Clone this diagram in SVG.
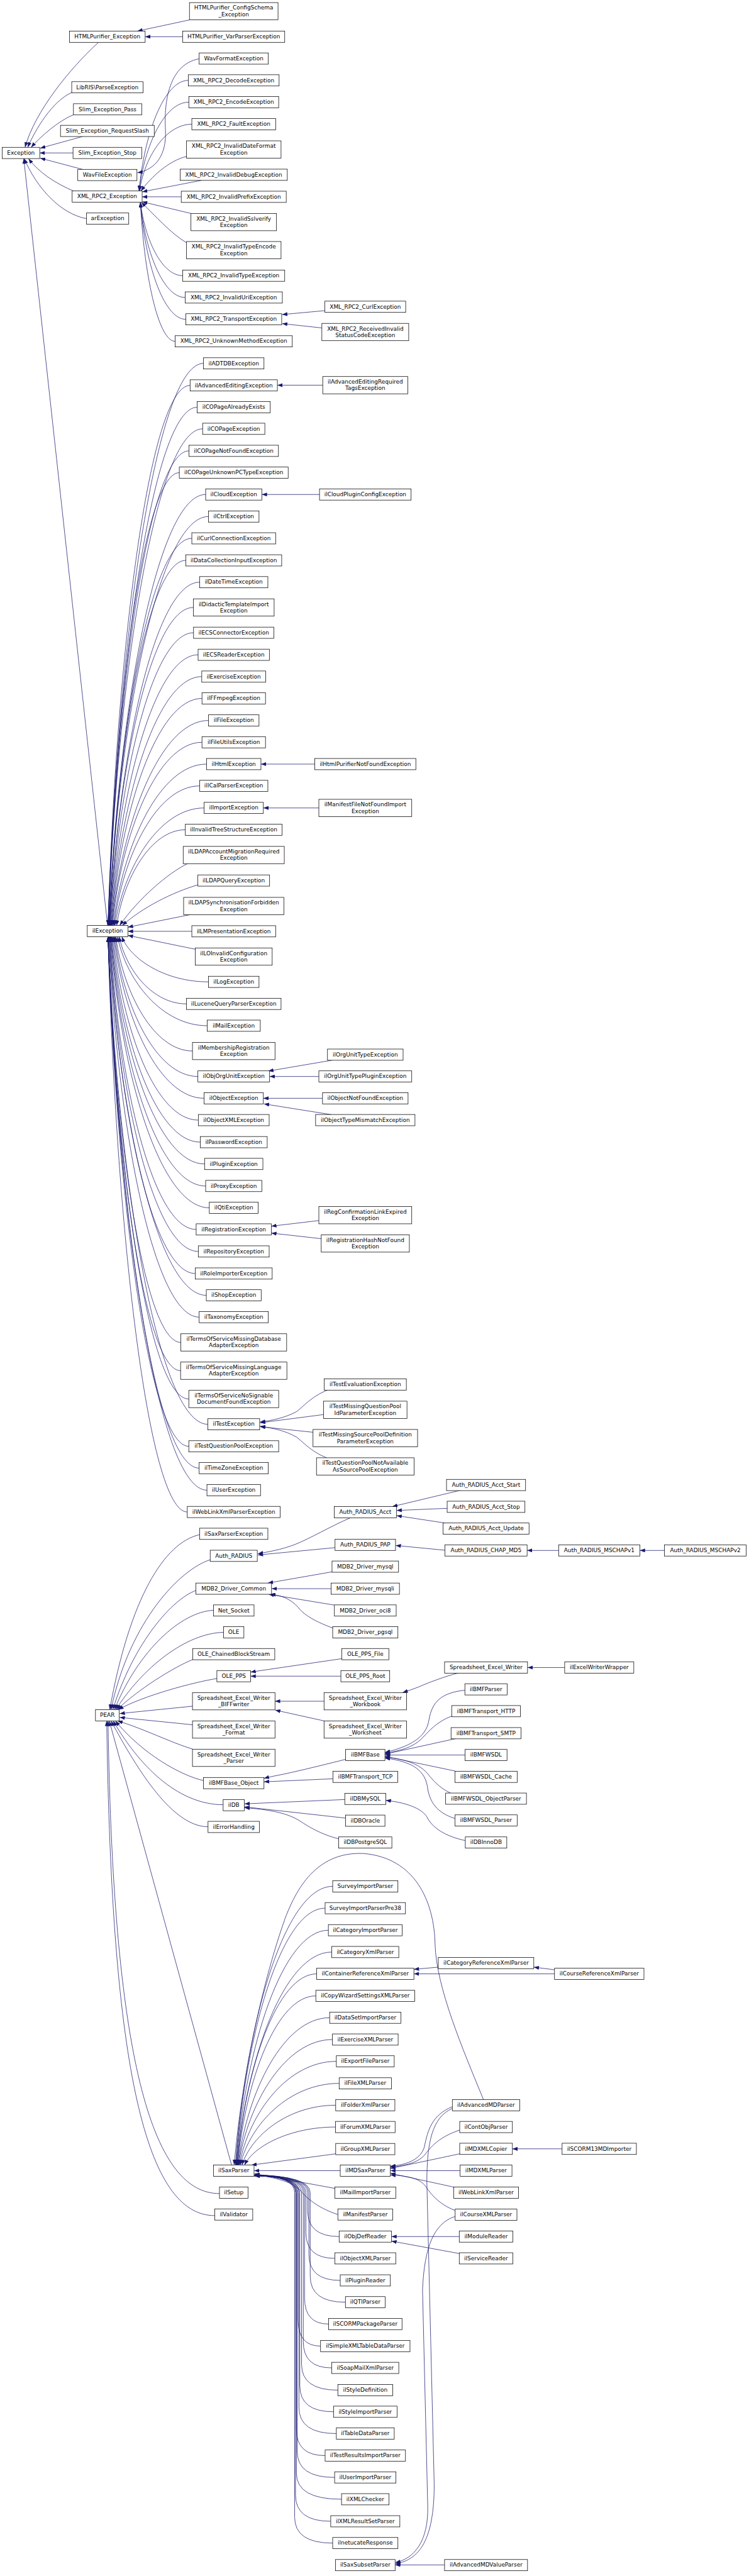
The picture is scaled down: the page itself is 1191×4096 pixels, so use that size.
<svg xmlns="http://www.w3.org/2000/svg" width="1191" height="4096" viewBox="0 0 1191 4096">
<style>
.n rect{fill:#fff;stroke:#000;stroke-width:1.1}
.n text{font-family:"DejaVu Sans","Liberation Sans",sans-serif;font-size:13px;text-anchor:middle;fill:#000}
.e path{fill:none;stroke:#191970;stroke-width:1.1;marker-end:url(#ar)}
</style>
<defs><marker id="ar" markerUnits="userSpaceOnUse" viewBox="0 0 12 9" markerWidth="12" markerHeight="9" refX="12" refY="4.5" orient="auto"><path d="M0,0L12,4.5L0,9z" fill="#191970"/></marker></defs>
<rect width="1191" height="4096" fill="#fff"/>
<g transform="scale(0.687)">
<g id="connectors" class="e">
<path d="M228,98 C160,160 80,260 58,341"/>
<path d="M166,214 C120,235 82,300 64,341"/>
<path d="M171,265 C135,280 95,315 72,341"/>
<path d="M191,316 L93,343"/>
<path d="M169,354 L92,354"/>
<path d="M191,392 L93,366"/>
<path d="M172,443 C130,425 90,400 66,367"/>
<path d="M200,506 C140,495 85,435 56,367"/>
<path d="M249,2142 L55,367"/>
<path d="M439,46 L318,72"/>
<path d="M423,85 L336,85"/>
<path d="M461,136 C385,150 380,250 383,300 C386,360 360,392 318,400"/>
<path d="M436,186 C379,186 333,314 322,442"/>
<path d="M437,236.5 C380,236.5 334,339 322,442"/>
<path d="M444,287.5 C383,287.5 334,365 323,442"/>
<path d="M432,362 C390,372 350,410 326,442"/>
<path d="M466,417.5 L329,444"/>
<path d="M419.5,455.5 L329,455.5"/>
<path d="M442,494 L329,467"/>
<path d="M432,562 C395,540 360,500 327,468"/>
<path d="M423,638 C374,638 335,553 325,468"/>
<path d="M428.5,688.5 C377,688.5 335,578 325,468"/>
<path d="M430,739 C377,739 335,603 325,468"/>
<path d="M405.5,790 C365,790 333,629 325,468"/>
<path d="M752,719 L653,728"/>
<path d="M745,759 L653,749"/>
<path d="M471,841 C360,841 272,1492 250,2142"/>
<path d="M440,892 C345,892 269,1517 250,2142"/>
<path d="M456.5,942.5 C354,942.5 271,1542 250,2142"/>
<path d="M469,992.5 C360,992.5 272,1568 250,2142"/>
<path d="M437.5,1043.5 C344,1043.5 270,1593 251,2142"/>
<path d="M415,1094 C333,1094 267,1618 251,2142"/>
<path d="M476,1144.5 C364,1144.5 274,1644 252,2142"/>
<path d="M482.5,1195.5 C368,1195.5 275,1669 252,2142"/>
<path d="M444,1246 C348,1246 272,1694 253,2142"/>
<path d="M430,1297 C342,1297 271,1720 253,2142"/>
<path d="M462,1347.5 C358,1347.5 275,1745 254,2142"/>
<path d="M447.5,1406 C351,1406 273,1774 254,2142"/>
<path d="M448,1464.5 C352,1464.5 274,1804 255,2142"/>
<path d="M458.5,1515.5 C358,1515.5 276,1829 256,2142"/>
<path d="M467,1566 C362,1566 278,1854 257,2142"/>
<path d="M467.5,1616.5 C362,1616.5 279,1880 258,2142"/>
<path d="M482.5,1667.5 C371,1667.5 281,1905 259,2142"/>
<path d="M467.5,1718 C364,1718 281,1930 260,2142"/>
<path d="M478,1768.5 C370,1768.5 284,1956 262,2142"/>
<path d="M462,1819 C363,1819 284,1981 264,2142"/>
<path d="M472.5,1870 C370,1870 287,2006 266,2142"/>
<path d="M429,1920.5 C350,1920.5 286,2032 270,2142"/>
<path d="M434,1999 C390,2020 320,2080 277,2142"/>
<path d="M458,2048 C400,2065 330,2100 283,2142"/>
<path d="M440,2117 L296,2146"/>
<path d="M444,2155.5 L296,2155.5"/>
<path d="M452,2197 L296,2165"/>
<path d="M482.5,2272.5 C382,2272.5 302,2220 282,2168"/>
<path d="M431.5,2323.5 C354,2323.5 292,2246 276,2168"/>
<path d="M479.5,2374 C376,2374 293,2271 272,2168"/>
<path d="M445.5,2432.5 C357,2432.5 286,2300 268,2168"/>
<path d="M458,2491.5 C362,2491.5 285,2330 266,2168"/>
<path d="M472.5,2542 C368,2542 285,2355 264,2168"/>
<path d="M459,2592.5 C360,2592.5 282,2380 262,2168"/>
<path d="M463.5,2643.5 C362,2643.5 280,2406 260,2168"/>
<path d="M473.5,2694 C366,2694 280,2431 258,2168"/>
<path d="M476,2745 C366,2745 279,2456 257,2168"/>
<path d="M484.5,2795.5 C370,2795.5 279,2482 256,2168"/>
<path d="M454,2845.5 C354,2845.5 275,2507 255,2168"/>
<path d="M459,2896.5 C356,2896.5 274,2532 254,2168"/>
<path d="M452,2947.5 C352,2947.5 273,2558 253,2168"/>
<path d="M477.5,2998 C365,2998 275,2583 252,2168"/>
<path d="M461,3048.5 C356,3048.5 272,2608 251,2168"/>
<path d="M418.5,3107 C334,3107 267,2638 250,2168"/>
<path d="M418,3172.5 C334,3172.5 267,2670 250,2168"/>
<path d="M437,3238 C344,3238 269,2703 250,2168"/>
<path d="M481,3296.5 C366,3296.5 273,2732 250,2168"/>
<path d="M437,3347.5 C344,3347.5 269,2758 250,2168"/>
<path d="M461,3398 C356,3398 271,2783 250,2168"/>
<path d="M479,3449 C364,3449 273,2808 250,2168"/>
<path d="M433.5,3499.5 C342,3499.5 268,2834 250,2168"/>
<path d="M747,891.5 L642,891.5"/>
<path d="M739.5,1144.5 L606,1144.5"/>
<path d="M728.5,1768.5 L604,1768.5"/>
<path d="M738,1870 L609.5,1870"/>
<path d="M768,2454 L621,2479"/>
<path d="M738,2491.5 L624,2491.5"/>
<path d="M746.5,2542 L609.5,2542"/>
<path d="M768,2580 L611,2555"/>
<path d="M738,2825 L628,2838"/>
<path d="M744,2867 L628,2854"/>
<path d="M759,3217 C720,3232 700,3258 685,3268 C660,3281 630,3288 602,3291"/>
<path d="M749,3274 L602,3293"/>
<path d="M724.5,3315 L602,3302"/>
<path d="M756,3374 C720,3360 700,3336 686,3326 C660,3311 630,3305 602,3301"/>
<path d="M462,3552 C380,3570 300,3700 254,3957"/>
<path d="M487,3610 C420,3630 300,3750 257,3957"/>
<path d="M454,3681 C400,3700 310,3800 261,3957"/>
<path d="M494,3727 C420,3730 320,3820 265,3957"/>
<path d="M517.5,3778 C430,3780 330,3860 268,3957"/>
<path d="M446,3841 C400,3860 320,3910 271,3957"/>
<path d="M502,3885 C450,3893 330,3925 274,3957"/>
<path d="M445.5,3949 L277,3966"/>
<path d="M445.5,3992 L277,3975"/>
<path d="M445.5,4048 C400,4035 330,4000 272,3983"/>
<path d="M471,4121 C420,4110 330,4060 267,3983"/>
<path d="M516.5,4177 C420,4177 330,4100 262,3983"/>
<path d="M481.5,4228 C400,4228 320,4100 257,3983"/>
<path d="M536,5011 L253,3983"/>
<path d="M508,5077 C360,5077 262,4800 250,3983"/>
<path d="M497,5128 C340,5128 258,4800 247,3983"/>
<path d="M813,3512 C760,3535 720,3560 682,3575 C650,3587 620,3592 597,3596"/>
<path d="M775.5,3582 L597,3599"/>
<path d="M1067,3449 L908,3487"/>
<path d="M1035,3491 L918,3496"/>
<path d="M1030,3525 L918,3508"/>
<path d="M1030,3588 L916,3577"/>
<path d="M1293,3588.5 L1220,3588.5"/>
<path d="M1538,3588.5 L1481,3588.5"/>
<path d="M768.5,3638 L620,3664"/>
<path d="M766.5,3677 L629,3677"/>
<path d="M774,3715 L622,3690"/>
<path d="M770,3768 C735,3755 705,3740 690,3720 C672,3700 650,3692 626,3690"/>
<path d="M791,3839 L580,3870"/>
<path d="M789,3879.5 L580,3879.5"/>
<path d="M750,3937.5 L636.5,3937.5"/>
<path d="M750,3983 L637,3958"/>
<path d="M1061,3872 C1030,3880 990,3895 970,3904 C955,3910 945,3913 932,3917.5"/>
<path d="M1307,3859.5 L1221,3859.5"/>
<path d="M800,4072 C760,4082 720,4092 676,4102 C650,4108 630,4111 611,4116"/>
<path d="M770.5,4117 L611,4124"/>
<path d="M1076,3912 C1020,3918 1000,3940 993,3980 C988,4015 960,4040 891,4056"/>
<path d="M1045.5,3972 C1010,3985 990,4010 975,4025 C955,4045 925,4052 891,4058"/>
<path d="M1055,4024 L891,4060"/>
<path d="M1076.5,4062 L891,4062"/>
<path d="M1053,4099 L891,4065"/>
<path d="M1043,4150 C1010,4135 995,4110 985,4100 C965,4080 930,4070 891,4067"/>
<path d="M1053,4209 C1010,4195 995,4170 990,4140 C985,4100 960,4078 891,4069"/>
<path d="M798,4165 L566,4175"/>
<path d="M800,4208 L566,4182"/>
<path d="M784,4256 C740,4245 710,4225 690,4212 C660,4195 620,4188 566,4184"/>
<path d="M1077,4260 C1030,4250 1000,4230 988,4205 C975,4185 940,4172 893,4167"/>
<path d="M770,4366 C658,4366 568,4688 545,5011"/>
<path d="M752.5,4416.5 C650,4416.5 567,4714 546,5011"/>
<path d="M760,4467.5 C654,4467.5 568,4739 547,5011"/>
<path d="M768,4518 C658,4518 570,4764 548,5011"/>
<path d="M733,4568.5 C641,4568.5 567,4790 549,5011"/>
<path d="M731,4619.5 C640,4619.5 568,4815 550,5011"/>
<path d="M763,4670 C657,4670 572,4840 551,5011"/>
<path d="M769.5,4720.5 C661,4720.5 574,4866 552,5011"/>
<path d="M778.5,4771 C666,4771 576,4891 554,5011"/>
<path d="M785,4822 C670,4822 579,4916 556,5011"/>
<path d="M777,4872.5 C668,4872.5 582,4942 560,5011"/>
<path d="M776.5,4923 C672,4923 587,4967 566,5011"/>
<path d="M777,4985 L582,5011"/>
<path d="M1119,4859.5 C1070,4740 1010,4600 1007,4500 C1005,4400 960,4300 842,4290 C740,4285 690,4360 660,4440 C610,4580 560,4800 542,5011"/>
<path d="M787.5,5024 L588,5024"/>
<path d="M775,5065 L589,5031"/>
<path d="M782,5125.5 C740,5112 712,5090 697,5072 C682,5052 640,5040 589,5033"/>
<path d="M785,5176.5 Q712,5176.5 712,5116 L712,5075 Q712,5036 589,5034"/>
<path d="M775,5227 Q708,5227 708,5167 L708,5075 Q708,5036 589,5034"/>
<path d="M787.5,5278 Q715,5278 715,5218 L715,5075 Q715,5036 589,5034"/>
<path d="M799.5,5328.5 Q718,5328.5 718,5268 L718,5075 Q718,5036 589,5035"/>
<path d="M760.5,5379 Q705,5379 705,5319 L705,5075 Q705,5036 589,5035"/>
<path d="M742,5430 Q690,5430 690,5370 L690,5075 Q690,5036 589,5035"/>
<path d="M768,5480.5 Q702,5480.5 702,5420 L702,5075 Q702,5036 589,5035"/>
<path d="M782,5532 Q698,5532 698,5472 L698,5075 Q698,5036 589,5036"/>
<path d="M772,5582 Q694,5582 694,5522 L694,5075 Q694,5036 589,5036"/>
<path d="M778.5,5632.5 Q692,5632.5 692,5572 L692,5075 Q692,5036 589,5036"/>
<path d="M752.5,5683.5 Q686,5683.5 686,5623 L686,5075 Q686,5036 589,5036"/>
<path d="M774.5,5734 Q688,5734 688,5674 L688,5075 Q688,5036 589,5036"/>
<path d="M790.5,5784.5 Q686,5784.5 686,5724 L686,5075 Q686,5036 589,5036"/>
<path d="M765.5,5835.5 Q684,5835.5 684,5775 L684,5075 Q684,5036 589,5036"/>
<path d="M770,5886 Q682,5886 682,5826 L682,5075 Q682,5036 589,5036"/>
<path d="M1014.5,4553 L958,4558"/>
<path d="M1283.5,4568.5 L958,4568.5"/>
<path d="M1283.5,4559 L1235.5,4553"/>
<path d="M1047,4876 C1000,4895 990,4930 982,4970 C972,5000 940,5010 903.5,5014"/>
<path d="M1064,4930 C1020,4945 1000,4965 985,4985 C970,5005 940,5012 903.5,5016"/>
<path d="M1064,4985 L903.5,5019"/>
<path d="M1065,5024 L903.5,5024"/>
<path d="M1050,5062 L903.5,5030"/>
<path d="M1053.5,5116 C1015,5102 995,5075 985,5060 C970,5040 940,5036 903.5,5034"/>
<path d="M1301,4973.5 L1186,4973.5"/>
<path d="M1063,5176.5 L906,5176.5"/>
<path d="M1064,5216 L906,5187"/>
<path d="M1029,5936.5 L914.5,5936.5"/>
<path d="M1047,4880 C1000,4900 988,4960 988,5050 L1005,5750 C1005,5880 970,5925 915,5934"/>
<path d="M1053.5,5130 C1005,5145 982,5200 978,5300 L990,5800 C992,5880 960,5922 915,5931"/>
</g>
<g id="nodes">
<g id="n-Exception" class="n"><rect x="5" y="341" width="87" height="26"/><text x="48.5" y="358">Exception</text></g>
<g id="n-PEAR" class="n"><rect x="221" y="3957" width="55" height="26"/><text x="248.5" y="3974">PEAR</text></g>
<g id="n-HTMLPurifier_Exception" class="n"><rect x="161" y="72" width="175" height="26"/><text x="248.5" y="89">HTMLPurifier_Exception</text></g>
<g id="n-LibRIS-ParseException" class="n"><rect x="166" y="189" width="165" height="26"/><text x="248.5" y="206">LibRIS\ParseException</text></g>
<g id="n-Slim_Exception_Pass" class="n"><rect x="170" y="240" width="158" height="26"/><text x="249" y="257">Slim_Exception_Pass</text></g>
<g id="n-Slim_Exception_RequestSlash" class="n"><rect x="140" y="290" width="217" height="26"/><text x="248.5" y="307">Slim_Exception_RequestSlash</text></g>
<g id="n-Slim_Exception_Stop" class="n"><rect x="169" y="341" width="159" height="26"/><text x="248.5" y="358">Slim_Exception_Stop</text></g>
<g id="n-WavFileException" class="n"><rect x="180" y="392" width="137" height="26"/><text x="248.5" y="409">WavFileException</text></g>
<g id="n-XML_RPC2_Exception" class="n"><rect x="167" y="442" width="162" height="26"/><text x="248" y="459">XML_RPC2_Exception</text></g>
<g id="n-arException" class="n"><rect x="200" y="493" width="98" height="26"/><text x="249" y="510">arException</text></g>
<g id="n-ilException" class="n"><rect x="202" y="2142" width="94" height="26"/><text x="249" y="2159">ilException</text></g>
<g id="n-HTMLPurifier_ConfigSchema_Exception" class="n"><rect x="438.5" y="6" width="205" height="40"/><text x="541" y="22.5">HTMLPurifier_ConfigSchema<tspan x="541" dy="15">_Exception</tspan></text></g>
<g id="n-HTMLPurifier_VarParserException" class="n"><rect x="423" y="72" width="236" height="26"/><text x="541" y="89">HTMLPurifier_VarParserException</text></g>
<g id="n-WavFormatException" class="n"><rect x="461" y="122.5" width="160" height="26"/><text x="541" y="139.5">WavFormatException</text></g>
<g id="n-XML_RPC2_DecodeException" class="n"><rect x="436" y="173" width="210" height="26"/><text x="541" y="190">XML_RPC2_DecodeException</text></g>
<g id="n-XML_RPC2_EncodeException" class="n"><rect x="437" y="223.5" width="208" height="26"/><text x="541" y="240.5">XML_RPC2_EncodeException</text></g>
<g id="n-XML_RPC2_FaultException" class="n"><rect x="444" y="274.5" width="194" height="26"/><text x="541" y="291.5">XML_RPC2_FaultException</text></g>
<g id="n-XML_RPC2_InvalidDateFormatException" class="n"><rect x="431.5" y="326" width="219" height="40"/><text x="541" y="342.5">XML_RPC2_InvalidDateFormat<tspan x="541" dy="15">Exception</tspan></text></g>
<g id="n-XML_RPC2_InvalidDebugException" class="n"><rect x="417" y="391.5" width="248" height="26"/><text x="541" y="408.5">XML_RPC2_InvalidDebugException</text></g>
<g id="n-XML_RPC2_InvalidPrefixException" class="n"><rect x="419.5" y="442.5" width="243" height="26"/><text x="541" y="459.5">XML_RPC2_InvalidPrefixException</text></g>
<g id="n-XML_RPC2_InvalidSslverifyException" class="n"><rect x="442" y="494" width="198" height="40"/><text x="541" y="510.5">XML_RPC2_InvalidSslverify<tspan x="541" dy="15">Exception</tspan></text></g>
<g id="n-XML_RPC2_InvalidTypeEncodeException" class="n"><rect x="431.5" y="559" width="219" height="40"/><text x="541" y="575.5">XML_RPC2_InvalidTypeEncode<tspan x="541" dy="15">Exception</tspan></text></g>
<g id="n-XML_RPC2_InvalidTypeException" class="n"><rect x="423" y="625" width="236" height="26"/><text x="541" y="642">XML_RPC2_InvalidTypeException</text></g>
<g id="n-XML_RPC2_InvalidUriException" class="n"><rect x="428.5" y="675.5" width="225" height="26"/><text x="541" y="692.5">XML_RPC2_InvalidUriException</text></g>
<g id="n-XML_RPC2_TransportException" class="n"><rect x="430" y="726" width="222" height="26"/><text x="541" y="743">XML_RPC2_TransportException</text></g>
<g id="n-XML_RPC2_UnknownMethodException" class="n"><rect x="405.5" y="777" width="271" height="26"/><text x="541" y="794">XML_RPC2_UnknownMethodException</text></g>
<g id="n-ilADTDBException" class="n"><rect x="471" y="828" width="140" height="26"/><text x="541" y="845">ilADTDBException</text></g>
<g id="n-ilAdvancedEditingException" class="n"><rect x="440" y="879" width="202" height="26"/><text x="541" y="896">ilAdvancedEditingException</text></g>
<g id="n-ilCOPageAlreadyExists" class="n"><rect x="456.5" y="929.5" width="169" height="26"/><text x="541" y="946.5">ilCOPageAlreadyExists</text></g>
<g id="n-ilCOPageException" class="n"><rect x="469" y="979.5" width="144" height="26"/><text x="541" y="996.5">ilCOPageException</text></g>
<g id="n-ilCOPageNotFoundException" class="n"><rect x="437.5" y="1030.5" width="207" height="26"/><text x="541" y="1047.5">ilCOPageNotFoundException</text></g>
<g id="n-ilCOPageUnknownPCTypeException" class="n"><rect x="415" y="1081" width="252" height="26"/><text x="541" y="1098">ilCOPageUnknownPCTypeException</text></g>
<g id="n-ilCloudException" class="n"><rect x="476" y="1131.5" width="130" height="26"/><text x="541" y="1148.5">ilCloudException</text></g>
<g id="n-ilCtrlException" class="n"><rect x="482.5" y="1182.5" width="117" height="26"/><text x="541" y="1199.5">ilCtrlException</text></g>
<g id="n-ilCurlConnectionException" class="n"><rect x="444" y="1233" width="194" height="26"/><text x="541" y="1250">ilCurlConnectionException</text></g>
<g id="n-ilDataCollectionInputException" class="n"><rect x="430" y="1284" width="222" height="26"/><text x="541" y="1301">ilDataCollectionInputException</text></g>
<g id="n-ilDateTimeException" class="n"><rect x="462" y="1334.5" width="158" height="26"/><text x="541" y="1351.5">ilDateTimeException</text></g>
<g id="n-ilDidacticTemplateImportException" class="n"><rect x="447.5" y="1386" width="187" height="40"/><text x="541" y="1402.5">ilDidacticTemplateImport<tspan x="541" dy="15">Exception</tspan></text></g>
<g id="n-ilECSConnectorException" class="n"><rect x="448" y="1451.5" width="186" height="26"/><text x="541" y="1468.5">ilECSConnectorException</text></g>
<g id="n-ilECSReaderException" class="n"><rect x="458.5" y="1502.5" width="165" height="26"/><text x="541" y="1519.5">ilECSReaderException</text></g>
<g id="n-ilExerciseException" class="n"><rect x="467" y="1553" width="148" height="26"/><text x="541" y="1570">ilExerciseException</text></g>
<g id="n-ilFFmpegException" class="n"><rect x="467.5" y="1603.5" width="147" height="26"/><text x="541" y="1620.5">ilFFmpegException</text></g>
<g id="n-ilFileException" class="n"><rect x="482.5" y="1654.5" width="117" height="26"/><text x="541" y="1671.5">ilFileException</text></g>
<g id="n-ilFileUtilsException" class="n"><rect x="467.5" y="1705" width="147" height="26"/><text x="541" y="1722">ilFileUtilsException</text></g>
<g id="n-ilHtmlException" class="n"><rect x="478" y="1755.5" width="126" height="26"/><text x="541" y="1772.5">ilHtmlException</text></g>
<g id="n-ilICalParserException" class="n"><rect x="462" y="1806" width="158" height="26"/><text x="541" y="1823">ilICalParserException</text></g>
<g id="n-ilImportException" class="n"><rect x="472.5" y="1857" width="137" height="26"/><text x="541" y="1874">ilImportException</text></g>
<g id="n-ilInvalidTreeStructureException" class="n"><rect x="429" y="1907.5" width="224" height="26"/><text x="541" y="1924.5">ilInvalidTreeStructureException</text></g>
<g id="n-ilLDAPAccountMigrationRequiredException" class="n"><rect x="424" y="1959" width="234" height="40"/><text x="541" y="1975.5">ilLDAPAccountMigrationRequired<tspan x="541" dy="15">Exception</tspan></text></g>
<g id="n-ilLDAPQueryException" class="n"><rect x="458" y="2025" width="166" height="26"/><text x="541" y="2042">ilLDAPQueryException</text></g>
<g id="n-ilLDAPSynchronisationForbiddenException" class="n"><rect x="425" y="2077" width="232" height="40"/><text x="541" y="2093.5">ilLDAPSynchronisationForbidden<tspan x="541" dy="15">Exception</tspan></text></g>
<g id="n-ilLMPresentationException" class="n"><rect x="444" y="2142.5" width="194" height="26"/><text x="541" y="2159.5">ilLMPresentationException</text></g>
<g id="n-ilLOInvalidConfigurationException" class="n"><rect x="452" y="2194" width="178" height="40"/><text x="541" y="2210.5">ilLOInvalidConfiguration<tspan x="541" dy="15">Exception</tspan></text></g>
<g id="n-ilLogException" class="n"><rect x="482.5" y="2259.5" width="117" height="26"/><text x="541" y="2276.5">ilLogException</text></g>
<g id="n-ilLuceneQueryParserException" class="n"><rect x="431.5" y="2310.5" width="219" height="26"/><text x="541" y="2327.5">ilLuceneQueryParserException</text></g>
<g id="n-ilMailException" class="n"><rect x="479.5" y="2361" width="123" height="26"/><text x="541" y="2378">ilMailException</text></g>
<g id="n-ilMembershipRegistrationException" class="n"><rect x="445.5" y="2412.5" width="191" height="40"/><text x="541" y="2429">ilMembershipRegistration<tspan x="541" dy="15">Exception</tspan></text></g>
<g id="n-ilObjOrgUnitException" class="n"><rect x="458" y="2478.5" width="166" height="26"/><text x="541" y="2495.5">ilObjOrgUnitException</text></g>
<g id="n-ilObjectException" class="n"><rect x="472.5" y="2529" width="137" height="26"/><text x="541" y="2546">ilObjectException</text></g>
<g id="n-ilObjectXMLException" class="n"><rect x="459" y="2579.5" width="164" height="26"/><text x="541" y="2596.5">ilObjectXMLException</text></g>
<g id="n-ilPasswordException" class="n"><rect x="463.5" y="2630.5" width="155" height="26"/><text x="541" y="2647.5">ilPasswordException</text></g>
<g id="n-ilPluginException" class="n"><rect x="473.5" y="2681" width="135" height="26"/><text x="541" y="2698">ilPluginException</text></g>
<g id="n-ilProxyException" class="n"><rect x="476" y="2732" width="130" height="26"/><text x="541" y="2749">ilProxyException</text></g>
<g id="n-ilQtiException" class="n"><rect x="484.5" y="2782.5" width="113" height="26"/><text x="541" y="2799.5">ilQtiException</text></g>
<g id="n-ilRegistrationException" class="n"><rect x="454" y="2832.5" width="174" height="26"/><text x="541" y="2849.5">ilRegistrationException</text></g>
<g id="n-ilRepositoryException" class="n"><rect x="459" y="2883.5" width="164" height="26"/><text x="541" y="2900.5">ilRepositoryException</text></g>
<g id="n-ilRoleImporterException" class="n"><rect x="452" y="2934.5" width="178" height="26"/><text x="541" y="2951.5">ilRoleImporterException</text></g>
<g id="n-ilShopException" class="n"><rect x="477.5" y="2985" width="127" height="26"/><text x="541" y="3002">ilShopException</text></g>
<g id="n-ilTaxonomyException" class="n"><rect x="461" y="3035.5" width="160" height="26"/><text x="541" y="3052.5">ilTaxonomyException</text></g>
<g id="n-ilTermsOfServiceMissingDatabaseAdapterException" class="n"><rect x="418.5" y="3087" width="245" height="40"/><text x="541" y="3103.5">ilTermsOfServiceMissingDatabase<tspan x="541" dy="15">AdapterException</tspan></text></g>
<g id="n-ilTermsOfServiceMissingLanguageAdapterException" class="n"><rect x="418" y="3152.5" width="246" height="40"/><text x="541" y="3169">ilTermsOfServiceMissingLanguage<tspan x="541" dy="15">AdapterException</tspan></text></g>
<g id="n-ilTermsOfServiceNoSignableDocumentFoundException" class="n"><rect x="437" y="3218" width="208" height="40"/><text x="541" y="3234.5">ilTermsOfServiceNoSignable<tspan x="541" dy="15">DocumentFoundException</tspan></text></g>
<g id="n-ilTestException" class="n"><rect x="481" y="3283.5" width="120" height="26"/><text x="541" y="3300.5">ilTestException</text></g>
<g id="n-ilTestQuestionPoolException" class="n"><rect x="437" y="3334.5" width="208" height="26"/><text x="541" y="3351.5">ilTestQuestionPoolException</text></g>
<g id="n-ilTimeZoneException" class="n"><rect x="461" y="3385" width="160" height="26"/><text x="541" y="3402">ilTimeZoneException</text></g>
<g id="n-ilUserException" class="n"><rect x="479" y="3436" width="124" height="26"/><text x="541" y="3453">ilUserException</text></g>
<g id="n-ilWebLinkXmlParserException" class="n"><rect x="433.5" y="3486.5" width="215" height="26"/><text x="541" y="3503.5">ilWebLinkXmlParserException</text></g>
<g id="n-ilSaxParserException" class="n"><rect x="462" y="3537" width="158" height="26"/><text x="541" y="3554">ilSaxParserException</text></g>
<g id="n-Auth_RADIUS" class="n"><rect x="486.5" y="3588" width="109" height="26"/><text x="541" y="3605">Auth_RADIUS</text></g>
<g id="n-MDB2_Driver_Common" class="n"><rect x="453.5" y="3664" width="175" height="26"/><text x="541" y="3681">MDB2_Driver_Common</text></g>
<g id="n-Net_Socket" class="n"><rect x="494" y="3714.5" width="94" height="26"/><text x="541" y="3731.5">Net_Socket</text></g>
<g id="n-OLE" class="n"><rect x="517.5" y="3765" width="47" height="26"/><text x="541" y="3782">OLE</text></g>
<g id="n-OLE_ChainedBlockStream" class="n"><rect x="446" y="3815.5" width="190" height="26"/><text x="541" y="3832.5">OLE_ChainedBlockStream</text></g>
<g id="n-OLE_PPS" class="n"><rect x="502" y="3866.5" width="78" height="26"/><text x="541" y="3883.5">OLE_PPS</text></g>
<g id="n-Spreadsheet_Excel_Writer_BIFFwriter" class="n"><rect x="445.5" y="3917.5" width="191" height="40"/><text x="541" y="3934">Spreadsheet_Excel_Writer<tspan x="541" dy="15">_BIFFwriter</tspan></text></g>
<g id="n-Spreadsheet_Excel_Writer_Format" class="n"><rect x="445.5" y="3983" width="191" height="40"/><text x="541" y="3999.5">Spreadsheet_Excel_Writer<tspan x="541" dy="15">_Format</tspan></text></g>
<g id="n-Spreadsheet_Excel_Writer_Parser" class="n"><rect x="445.5" y="4048.5" width="191" height="40"/><text x="541" y="4065">Spreadsheet_Excel_Writer<tspan x="541" dy="15">_Parser</tspan></text></g>
<g id="n-ilBMFBase_Object" class="n"><rect x="471" y="4114" width="140" height="26"/><text x="541" y="4131">ilBMFBase_Object</text></g>
<g id="n-ilDB" class="n"><rect x="516.5" y="4165" width="49" height="26"/><text x="541" y="4182">ilDB</text></g>
<g id="n-ilErrorHandling" class="n"><rect x="481.5" y="4215.5" width="119" height="26"/><text x="541" y="4232.5">ilErrorHandling</text></g>
<g id="n-ilSaxParser" class="n"><rect x="494" y="5011" width="94" height="26"/><text x="541" y="5028">ilSaxParser</text></g>
<g id="n-ilSetup" class="n"><rect x="508" y="5062" width="66" height="26"/><text x="541" y="5079">ilSetup</text></g>
<g id="n-ilValidator" class="n"><rect x="497" y="5112.5" width="88" height="26"/><text x="541" y="5129.5">ilValidator</text></g>
<g id="n-XML_RPC2_CurlException" class="n"><rect x="752" y="697" width="187" height="26"/><text x="845.5" y="714">XML_RPC2_CurlException</text></g>
<g id="n-XML_RPC2_ReceivedInvalidStatusCodeException" class="n"><rect x="745" y="748.5" width="201" height="40"/><text x="845.5" y="765">XML_RPC2_ReceivedInvalid<tspan x="845.5" dy="15">StatusCodeException</tspan></text></g>
<g id="n-ilAdvancedEditingRequiredTagsException" class="n"><rect x="747" y="871.5" width="197" height="40"/><text x="845.5" y="888">ilAdvancedEditingRequired<tspan x="845.5" dy="15">TagsException</tspan></text></g>
<g id="n-ilCloudPluginConfigException" class="n"><rect x="739.5" y="1131.5" width="212" height="26"/><text x="845.5" y="1148.5">ilCloudPluginConfigException</text></g>
<g id="n-ilHtmlPurifierNotFoundException" class="n"><rect x="728.5" y="1755.5" width="234" height="26"/><text x="845.5" y="1772.5">ilHtmlPurifierNotFoundException</text></g>
<g id="n-ilManifestFileNotFoundImportException" class="n"><rect x="738" y="1850" width="215" height="40"/><text x="845.5" y="1866.5">ilManifestFileNotFoundImport<tspan x="845.5" dy="15">Exception</tspan></text></g>
<g id="n-ilOrgUnitTypeException" class="n"><rect x="758" y="2428" width="175" height="26"/><text x="845.5" y="2445">ilOrgUnitTypeException</text></g>
<g id="n-ilOrgUnitTypePluginException" class="n"><rect x="738" y="2478.5" width="215" height="26"/><text x="845.5" y="2495.5">ilOrgUnitTypePluginException</text></g>
<g id="n-ilObjectNotFoundException" class="n"><rect x="746.5" y="2529" width="198" height="26"/><text x="845.5" y="2546">ilObjectNotFoundException</text></g>
<g id="n-ilObjectTypeMismatchException" class="n"><rect x="730.5" y="2579.5" width="230" height="26"/><text x="845.5" y="2596.5">ilObjectTypeMismatchException</text></g>
<g id="n-ilRegConfirmationLinkExpiredException" class="n"><rect x="738" y="2792.5" width="215" height="40"/><text x="845.5" y="2809">ilRegConfirmationLinkExpired<tspan x="845.5" dy="15">Exception</tspan></text></g>
<g id="n-ilRegistrationHashNotFoundException" class="n"><rect x="743.5" y="2858" width="204" height="40"/><text x="845.5" y="2874.5">ilRegistrationHashNotFound<tspan x="845.5" dy="15">Exception</tspan></text></g>
<g id="n-ilTestEvaluationException" class="n"><rect x="750.5" y="3191.5" width="190" height="26"/><text x="845.5" y="3208.5">ilTestEvaluationException</text></g>
<g id="n-ilTestMissingQuestionPoolIdParameterException" class="n"><rect x="749" y="3243" width="193" height="40"/><text x="845.5" y="3259.5">ilTestMissingQuestionPool<tspan x="845.5" dy="15">IdParameterException</tspan></text></g>
<g id="n-ilTestMissingSourcePoolDefinitionParameterException" class="n"><rect x="724.5" y="3308.5" width="242" height="40"/><text x="845.5" y="3325">ilTestMissingSourcePoolDefinition<tspan x="845.5" dy="15">ParameterException</tspan></text></g>
<g id="n-ilTestQuestionPoolNotAvailableAsSourcePoolException" class="n"><rect x="732.5" y="3374" width="226" height="40"/><text x="845.5" y="3390.5">ilTestQuestionPoolNotAvailable<tspan x="845.5" dy="15">AsSourcePoolException</tspan></text></g>
<g id="n-Auth_RADIUS_Acct" class="n"><rect x="773.5" y="3487" width="144" height="26"/><text x="845.5" y="3504">Auth_RADIUS_Acct</text></g>
<g id="n-Auth_RADIUS_PAP" class="n"><rect x="775.5" y="3562.5" width="140" height="26"/><text x="845.5" y="3579.5">Auth_RADIUS_PAP</text></g>
<g id="n-MDB2_Driver_mysql" class="n"><rect x="768.5" y="3613" width="154" height="26"/><text x="845.5" y="3630">MDB2_Driver_mysql</text></g>
<g id="n-MDB2_Driver_mysqli" class="n"><rect x="766.5" y="3664" width="158" height="26"/><text x="845.5" y="3681">MDB2_Driver_mysqli</text></g>
<g id="n-MDB2_Driver_oci8" class="n"><rect x="774" y="3714.5" width="143" height="26"/><text x="845.5" y="3731.5">MDB2_Driver_oci8</text></g>
<g id="n-MDB2_Driver_pgsql" class="n"><rect x="770" y="3765" width="151" height="26"/><text x="845.5" y="3782">MDB2_Driver_pgsql</text></g>
<g id="n-OLE_PPS_File" class="n"><rect x="791" y="3815.5" width="109" height="26"/><text x="845.5" y="3832.5">OLE_PPS_File</text></g>
<g id="n-OLE_PPS_Root" class="n"><rect x="789" y="3866.5" width="113" height="26"/><text x="845.5" y="3883.5">OLE_PPS_Root</text></g>
<g id="n-Spreadsheet_Excel_Writer_Workbook" class="n"><rect x="750" y="3917.5" width="191" height="40"/><text x="845.5" y="3934">Spreadsheet_Excel_Writer<tspan x="845.5" dy="15">_Workbook</tspan></text></g>
<g id="n-Spreadsheet_Excel_Writer_Worksheet" class="n"><rect x="750" y="3983" width="191" height="40"/><text x="845.5" y="3999.5">Spreadsheet_Excel_Writer<tspan x="845.5" dy="15">_Worksheet</tspan></text></g>
<g id="n-ilBMFBase" class="n"><rect x="800" y="4049" width="91" height="26"/><text x="845.5" y="4066">ilBMFBase</text></g>
<g id="n-ilBMFTransport_TCP" class="n"><rect x="770.5" y="4099.5" width="150" height="26"/><text x="845.5" y="4116.5">ilBMFTransport_TCP</text></g>
<g id="n-ilDBMySQL" class="n"><rect x="798" y="4150.5" width="95" height="26"/><text x="845.5" y="4167.5">ilDBMySQL</text></g>
<g id="n-ilDBOracle" class="n"><rect x="800" y="4201" width="91" height="26"/><text x="845.5" y="4218">ilDBOracle</text></g>
<g id="n-ilDBPostgreSQL" class="n"><rect x="784" y="4251.5" width="123" height="26"/><text x="845.5" y="4268.5">ilDBPostgreSQL</text></g>
<g id="n-SurveyImportParser" class="n"><rect x="770" y="4353" width="151" height="26"/><text x="845.5" y="4370">SurveyImportParser</text></g>
<g id="n-SurveyImportParserPre38" class="n"><rect x="752.5" y="4403.5" width="186" height="26"/><text x="845.5" y="4420.5">SurveyImportParserPre38</text></g>
<g id="n-ilCategoryImportParser" class="n"><rect x="760" y="4454.5" width="171" height="26"/><text x="845.5" y="4471.5">ilCategoryImportParser</text></g>
<g id="n-ilCategoryXmlParser" class="n"><rect x="768" y="4505" width="155" height="26"/><text x="845.5" y="4522">ilCategoryXmlParser</text></g>
<g id="n-ilContainerReferenceXmlParser" class="n"><rect x="733" y="4555.5" width="225" height="26"/><text x="845.5" y="4572.5">ilContainerReferenceXmlParser</text></g>
<g id="n-ilCopyWizardSettingsXMLParser" class="n"><rect x="731" y="4606.5" width="229" height="26"/><text x="845.5" y="4623.5">ilCopyWizardSettingsXMLParser</text></g>
<g id="n-ilDataSetImportParser" class="n"><rect x="763" y="4657" width="165" height="26"/><text x="845.5" y="4674">ilDataSetImportParser</text></g>
<g id="n-ilExerciseXMLParser" class="n"><rect x="769.5" y="4707.5" width="152" height="26"/><text x="845.5" y="4724.5">ilExerciseXMLParser</text></g>
<g id="n-ilExportFileParser" class="n"><rect x="778.5" y="4758" width="134" height="26"/><text x="845.5" y="4775">ilExportFileParser</text></g>
<g id="n-ilFileXMLParser" class="n"><rect x="785" y="4809" width="121" height="26"/><text x="845.5" y="4826">ilFileXMLParser</text></g>
<g id="n-ilFolderXmlParser" class="n"><rect x="777" y="4859.5" width="137" height="26"/><text x="845.5" y="4876.5">ilFolderXmlParser</text></g>
<g id="n-ilForumXMLParser" class="n"><rect x="776.5" y="4910" width="138" height="26"/><text x="845.5" y="4927">ilForumXMLParser</text></g>
<g id="n-ilGroupXMLParser" class="n"><rect x="777" y="4961" width="137" height="26"/><text x="845.5" y="4978">ilGroupXMLParser</text></g>
<g id="n-ilMDSaxParser" class="n"><rect x="787.5" y="5011" width="116" height="26"/><text x="845.5" y="5028">ilMDSaxParser</text></g>
<g id="n-ilMailImportParser" class="n"><rect x="775" y="5062" width="141" height="26"/><text x="845.5" y="5079">ilMailImportParser</text></g>
<g id="n-ilManifestParser" class="n"><rect x="782" y="5112.5" width="127" height="26"/><text x="845.5" y="5129.5">ilManifestParser</text></g>
<g id="n-ilObjDefReader" class="n"><rect x="785" y="5163.5" width="121" height="26"/><text x="845.5" y="5180.5">ilObjDefReader</text></g>
<g id="n-ilObjectXMLParser" class="n"><rect x="775" y="5214" width="141" height="26"/><text x="845.5" y="5231">ilObjectXMLParser</text></g>
<g id="n-ilPluginReader" class="n"><rect x="787.5" y="5265" width="116" height="26"/><text x="845.5" y="5282">ilPluginReader</text></g>
<g id="n-ilQTIParser" class="n"><rect x="799.5" y="5315.5" width="92" height="26"/><text x="845.5" y="5332.5">ilQTIParser</text></g>
<g id="n-ilSCORMPackageParser" class="n"><rect x="760.5" y="5366" width="170" height="26"/><text x="845.5" y="5383">ilSCORMPackageParser</text></g>
<g id="n-ilSimpleXMLTableDataParser" class="n"><rect x="742" y="5417" width="207" height="26"/><text x="845.5" y="5434">ilSimpleXMLTableDataParser</text></g>
<g id="n-ilSoapMailXmlParser" class="n"><rect x="768" y="5467.5" width="155" height="26"/><text x="845.5" y="5484.5">ilSoapMailXmlParser</text></g>
<g id="n-ilStyleDefinition" class="n"><rect x="782" y="5519" width="127" height="26"/><text x="845.5" y="5536">ilStyleDefinition</text></g>
<g id="n-ilStyleImportParser" class="n"><rect x="772" y="5569" width="147" height="26"/><text x="845.5" y="5586">ilStyleImportParser</text></g>
<g id="n-ilTableDataParser" class="n"><rect x="778.5" y="5619.5" width="134" height="26"/><text x="845.5" y="5636.5">ilTableDataParser</text></g>
<g id="n-ilTestResultsImportParser" class="n"><rect x="752.5" y="5670.5" width="186" height="26"/><text x="845.5" y="5687.5">ilTestResultsImportParser</text></g>
<g id="n-ilUserImportParser" class="n"><rect x="774.5" y="5721" width="142" height="26"/><text x="845.5" y="5738">ilUserImportParser</text></g>
<g id="n-ilXMLChecker" class="n"><rect x="790.5" y="5771.5" width="110" height="26"/><text x="845.5" y="5788.5">ilXMLChecker</text></g>
<g id="n-ilXMLResultSetParser" class="n"><rect x="765.5" y="5822.5" width="160" height="26"/><text x="845.5" y="5839.5">ilXMLResultSetParser</text></g>
<g id="n-ilnetucateResponse" class="n"><rect x="770" y="5873" width="151" height="26"/><text x="845.5" y="5890">ilnetucateResponse</text></g>
<g id="n-ilSaxSubsetParser" class="n"><rect x="776.5" y="5924" width="138" height="26"/><text x="845.5" y="5941">ilSaxSubsetParser</text></g>
<g id="n-Auth_RADIUS_Acct_Start" class="n"><rect x="1033.5" y="3424" width="183" height="26"/><text x="1125" y="3441">Auth_RADIUS_Acct_Start</text></g>
<g id="n-Auth_RADIUS_Acct_Stop" class="n"><rect x="1035" y="3474.5" width="180" height="26"/><text x="1125" y="3491.5">Auth_RADIUS_Acct_Stop</text></g>
<g id="n-Auth_RADIUS_Acct_Update" class="n"><rect x="1025.5" y="3525" width="199" height="26"/><text x="1125" y="3542">Auth_RADIUS_Acct_Update</text></g>
<g id="n-Auth_RADIUS_CHAP_MD5" class="n"><rect x="1030" y="3575.5" width="190" height="26"/><text x="1125" y="3592.5">Auth_RADIUS_CHAP_MD5</text></g>
<g id="n-Spreadsheet_Excel_Writer" class="n"><rect x="1029" y="3846.5" width="192" height="26"/><text x="1125" y="3863.5">Spreadsheet_Excel_Writer</text></g>
<g id="n-ilBMFParser" class="n"><rect x="1076" y="3897" width="98" height="26"/><text x="1125" y="3914">ilBMFParser</text></g>
<g id="n-ilBMFTransport_HTTP" class="n"><rect x="1045.5" y="3947.5" width="159" height="26"/><text x="1125" y="3964.5">ilBMFTransport_HTTP</text></g>
<g id="n-ilBMFTransport_SMTP" class="n"><rect x="1044" y="3998.5" width="162" height="26"/><text x="1125" y="4015.5">ilBMFTransport_SMTP</text></g>
<g id="n-ilBMFWSDL" class="n"><rect x="1076.5" y="4049" width="97" height="26"/><text x="1125" y="4066">ilBMFWSDL</text></g>
<g id="n-ilBMFWSDL_Cache" class="n"><rect x="1053" y="4099.5" width="144" height="26"/><text x="1125" y="4116.5">ilBMFWSDL_Cache</text></g>
<g id="n-ilBMFWSDL_ObjectParser" class="n"><rect x="1031.5" y="4150" width="187" height="26"/><text x="1125" y="4167">ilBMFWSDL_ObjectParser</text></g>
<g id="n-ilBMFWSDL_Parser" class="n"><rect x="1053" y="4200.5" width="144" height="26"/><text x="1125" y="4217.5">ilBMFWSDL_Parser</text></g>
<g id="n-ilDBInnoDB" class="n"><rect x="1077" y="4251.5" width="96" height="26"/><text x="1125" y="4268.5">ilDBInnoDB</text></g>
<g id="n-ilCategoryReferenceXmlParser" class="n"><rect x="1014.5" y="4530.5" width="221" height="26"/><text x="1125" y="4547.5">ilCategoryReferenceXmlParser</text></g>
<g id="n-ilAdvancedMDParser" class="n"><rect x="1047" y="4859.5" width="156" height="26"/><text x="1125" y="4876.5">ilAdvancedMDParser</text></g>
<g id="n-ilContObjParser" class="n"><rect x="1064" y="4910" width="122" height="26"/><text x="1125" y="4927">ilContObjParser</text></g>
<g id="n-ilMDXMLCopier" class="n"><rect x="1064" y="4960.5" width="122" height="26"/><text x="1125" y="4977.5">ilMDXMLCopier</text></g>
<g id="n-ilMDXMLParser" class="n"><rect x="1065" y="5011" width="120" height="26"/><text x="1125" y="5028">ilMDXMLParser</text></g>
<g id="n-ilWebLinkXmlParser" class="n"><rect x="1050" y="5062" width="150" height="26"/><text x="1125" y="5079">ilWebLinkXmlParser</text></g>
<g id="n-ilCourseXMLParser" class="n"><rect x="1053.5" y="5113" width="143" height="26"/><text x="1125" y="5130">ilCourseXMLParser</text></g>
<g id="n-ilModuleReader" class="n"><rect x="1063" y="5163.5" width="124" height="26"/><text x="1125" y="5180.5">ilModuleReader</text></g>
<g id="n-ilServiceReader" class="n"><rect x="1063" y="5214" width="124" height="26"/><text x="1125" y="5231">ilServiceReader</text></g>
<g id="n-ilAdvancedMDValueParser" class="n"><rect x="1029" y="5924" width="192" height="26"/><text x="1125" y="5941">ilAdvancedMDValueParser</text></g>
<g id="n-Auth_RADIUS_MSCHAPv1" class="n"><rect x="1293" y="3575.5" width="188" height="26"/><text x="1387" y="3592.5">Auth_RADIUS_MSCHAPv1</text></g>
<g id="n-ilExcelWriterWrapper" class="n"><rect x="1307" y="3846.5" width="160" height="26"/><text x="1387" y="3863.5">ilExcelWriterWrapper</text></g>
<g id="n-ilCourseReferenceXmlParser" class="n"><rect x="1283.5" y="4555.5" width="207" height="26"/><text x="1387" y="4572.5">ilCourseReferenceXmlParser</text></g>
<g id="n-ilSCORM13MDImporter" class="n"><rect x="1301" y="4960.5" width="172" height="26"/><text x="1387" y="4977.5">ilSCORM13MDImporter</text></g>
<g id="n-Auth_RADIUS_MSCHAPv2" class="n"><rect x="1538" y="3575.5" width="189" height="26"/><text x="1632.5" y="3592.5">Auth_RADIUS_MSCHAPv2</text></g>
</g>
</g>
</svg>
